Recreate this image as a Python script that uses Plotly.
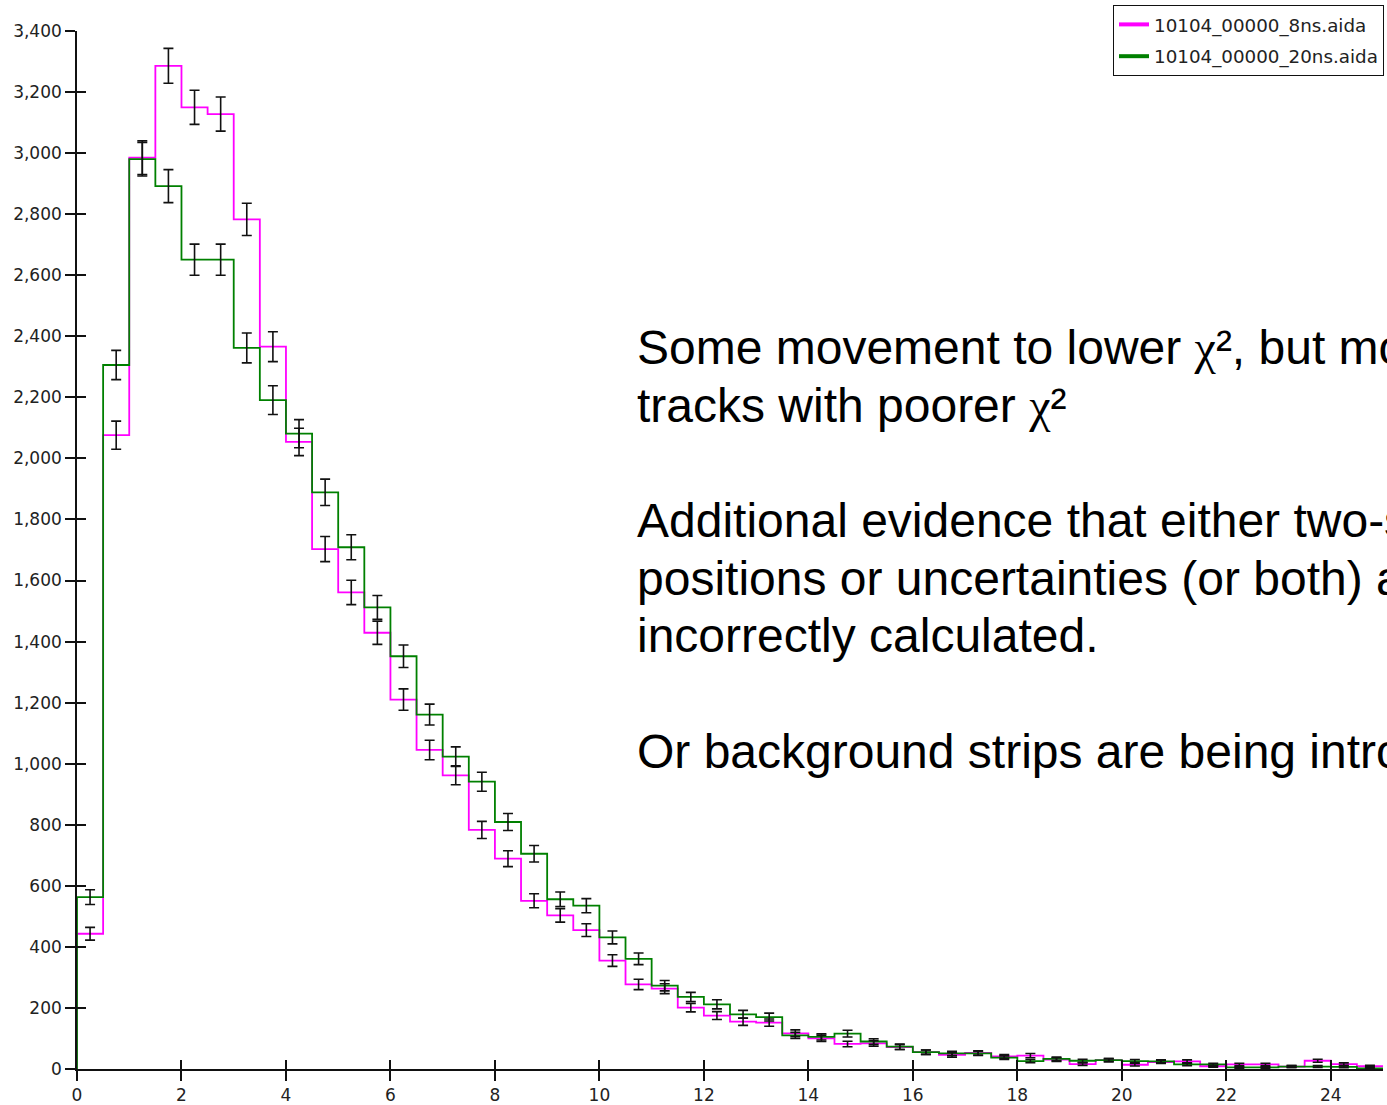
import numpy as np
import plotly.graph_objects as go

# Histogram binning: 50 bins of width 0.5 on [0, 25]
bin_width = 0.5
n_bins = 50

# Counts per bin, 10104_00000_8ns.aida
counts_8ns = [443, 2076, 2985, 3286, 3150, 3128, 2783, 2366, 2054, 1703,
              1561, 1429, 1210, 1045, 962, 783, 689, 551, 503, 455,
              355, 277, 263, 201, 175, 155, 152, 117, 100, 82,
              84, 72, 55, 46, 53, 41, 44, 31, 16, 29,
              14, 23, 25, 9, 15, 15, 8, 27, 16, 9]
errors_8ns = [21, 46, 55, 57, 56, 56, 53, 49, 45, 41,
              40, 38, 35, 32, 31, 28, 26, 23, 22, 21,
              19, 17, 16, 14, 13, 12, 12, 11, 10, 9,
              9, 8, 7, 7, 7, 6, 7, 6, 4, 5,
              4, 5, 5, 3, 4, 4, 3, 5, 4, 3]

# Counts per bin, 10104_00000_20ns.aida
counts_20ns = [563, 2306, 2980, 2892, 2651, 2651, 2362, 2191, 2081, 1889,
               1709, 1512, 1352, 1161, 1023, 941, 809, 705, 556, 535,
               431, 361, 273, 236, 212, 179, 170, 110, 105, 116,
               90, 73, 55, 51, 51, 37, 26, 33, 27, 29,
               26, 25, 15, 15, 5, 5, 8, 8, 7, 2]
errors_20ns = [24, 48, 55, 54, 51, 51, 49, 47, 46, 43,
               41, 39, 37, 34, 32, 31, 28, 27, 24, 23,
               21, 19, 17, 15, 15, 13, 13, 10, 10, 11,
               9, 9, 7, 7, 7, 6, 5, 6, 5, 5,
               5, 5, 4, 4, 2, 2, 3, 3, 3, 1]

names = ["10104_00000_8ns.aida", "10104_00000_20ns.aida"]
colors = ["#ff00ff", "#008000"]

x_ticks = list(range(0, 26, 2))
y_ticks = list(range(0, 3401, 200))
y_tick_text = [f"{v:,}" for v in y_ticks]

CHI = "<span style=\"font-family:'Liberation Serif'\">χ</span>²"
text_lines = [
    f"Some movement to lower {CHI}, but more",
    f"tracks with poorer {CHI}",
    "Additional evidence that either two-strip",
    "positions or uncertainties (or both) are",
    "incorrectly calculated.",
    "Or background strips are being introduced.",
]
text_baselines_px = [363, 421, 536, 594, 651, 767]

# ---- layout geometry (pixels) ----
W, H = 1387, 1105
ML, MR, MT, MB = 77, 4, 31, 36
PW, PH = W - ML - MR, H - MT - MB

edges = np.arange(n_bins + 1) * bin_width
centers = edges[:-1] + bin_width / 2

fig = go.Figure()


def step_xy(counts):
    c = np.asarray(counts, dtype=float)
    xs = np.concatenate([[edges[0]], edges[:-1], [edges[-1]]])
    ys = np.concatenate([[0.0], c, [c[-1]]])
    return xs, ys


# Outline histograms (8ns underneath, 20ns on top)
for counts, name, col in zip([counts_8ns, counts_20ns], names, colors):
    xs, ys = step_xy(counts)
    fig.add_trace(go.Scatter(
        x=xs, y=ys, mode="lines", line=dict(color=col, width=1.8, shape="hv"),
        showlegend=False, hoverinfo="skip", name=name,
    ))

# Error bars at bin centres
for counts, errs in zip([counts_8ns, counts_20ns], [errors_8ns, errors_20ns]):
    fig.add_trace(go.Scatter(
        x=centers, y=counts, mode="markers",
        marker=dict(size=1, color="rgba(0,0,0,0)"),
        error_y=dict(type="data", array=errs, visible=True,
                     color="#111111", thickness=1.6, width=5),
        showlegend=False, hoverinfo="skip",
    ))

# Legend entries with thicker sample lines
for i, (name, col) in enumerate(zip(names, colors)):
    fig.add_trace(go.Scatter(
        x=[None], y=[None], mode="lines", line=dict(color=col, width=4),
        name=name, legendgroup=f"g{i}", showlegend=True,
    ))

# Inward half of the crossing tick marks
fig.add_trace(go.Scatter(x=[None], y=[None], xaxis="x2", yaxis="y2",
                         showlegend=False, hoverinfo="skip"))

tick_font = dict(family="DejaVu Sans", size=17, color="#222222")

axis_common = dict(showgrid=False, zeroline=False, showline=True,
                   linecolor="#111111", linewidth=1.6,
                   ticks="outside", ticklen=10, tickwidth=1.5, tickcolor="#111111",
                   tickfont=tick_font)

annotations = []
for line, base in zip(text_lines, text_baselines_px):
    annotations.append(dict(
        text=line, xref="paper", yref="paper",
        x=(637 - ML) / PW, y=(H - MB - (base + 11)) / PH,
        xanchor="left", yanchor="bottom", showarrow=False,
        borderwidth=0, borderpad=0, align="left",
        font=dict(family="Liberation Sans", size=48, color="#000000"),
    ))

fig.update_layout(
    width=W, height=H,
    margin=dict(l=ML, r=MR, t=MT, b=MB, pad=0, autoexpand=False),
    paper_bgcolor="white", plot_bgcolor="white",
    xaxis=dict(range=[0, 25], tickvals=x_ticks, ticktext=[str(v) for v in x_ticks],
               **axis_common),
    yaxis=dict(range=[0, 3400], tickvals=y_ticks, ticktext=y_tick_text,
               **axis_common),
    xaxis2=dict(range=[0, 25], overlaying="x", tickvals=x_ticks, showticklabels=False,
                ticks="inside", ticklen=9, tickwidth=1.5, tickcolor="#111111",
                showgrid=False, zeroline=False, showline=False),
    yaxis2=dict(range=[0, 3400], overlaying="y", tickvals=y_ticks, showticklabels=False,
                ticks="inside", ticklen=9, tickwidth=1.5, tickcolor="#111111",
                showgrid=False, zeroline=False, showline=False),
    legend=dict(
        x=(1113 - ML) / PW, y=(H - MB - 5) / PH, xanchor="left", yanchor="top",
        bgcolor="white", bordercolor="#111111", borderwidth=1,
        font=dict(family="DejaVu Sans", size=18.3, color="#222222"),
        traceorder="grouped", tracegroupgap=5,
    ),
    annotations=annotations,
    showlegend=True,
)

fig.write_html("out.html")
